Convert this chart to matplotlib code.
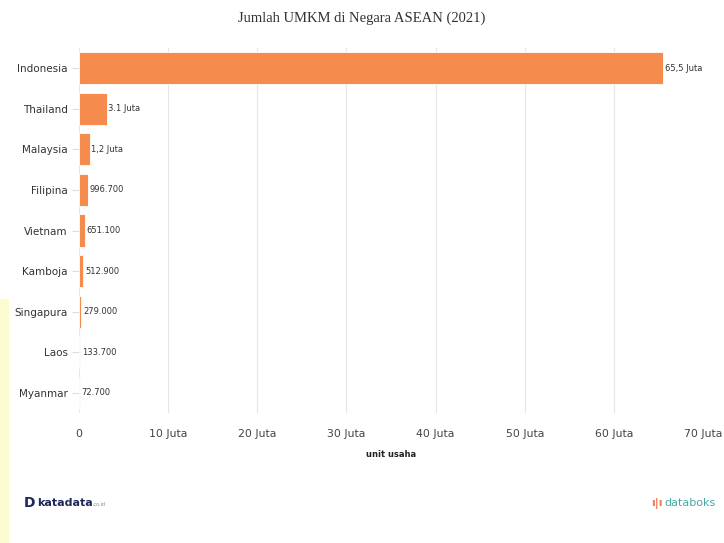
import matplotlib.pyplot as plt
from matplotlib.patches import Rectangle

# Data UMKM ASEAN 2021
negara = ['Indonesia', 'Thailand', 'Malaysia', 'Filipina', 'Vietnam',
          'Kamboja', 'Singapura', 'Laos', 'Myanmar']
jumlah = [65500000, 3100000, 1200000, 996700, 651100, 512900, 279000, 133700, 72700]
label_nilai = ['65,5 Juta', '3.1 Juta', '1,2 Juta', '996.700', '651.100',
               '512.900', '279.000', '133.700', '72.700']
tick_x = [0, 10, 20, 30, 40, 50, 60, 70]
tick_label_x = ['0', '10 Juta', '20 Juta', '30 Juta', '40 Juta',
                '50 Juta', '60 Juta', '70 Juta']

oranye = '#f58b4c'
oranye_muda = '#f9c9a8'
warna = [oranye] * 7 + [oranye_muda] * 2

fig = plt.figure(figsize=(7.24, 5.43), dpi=100)

# pita kuning tipis di kiri (watermark)
fig.patches.append(Rectangle((0, 0), 0.012, 0.45, transform=fig.transFigure,
                             facecolor='#fdfbd0', edgecolor='none', zorder=0))

ax = fig.add_axes([0.109, 0.239, 0.862, 0.673])

y = list(range(len(negara)))
ax.barh(y, [v / 1e6 for v in jumlah], height=0.79, color=warna,
        edgecolor='white', linewidth=0.6, zorder=2)

for i, (v, lab) in enumerate(zip(jumlah, label_nilai)):
    ax.text(v / 1e6 + 0.2, i, lab, va='center', ha='left',
            fontsize=6, color='#333333', zorder=3)

ax.set_ylim(len(negara) - 0.5, -0.5)
ax.set_xlim(0, 70)
ax.set_yticks(y)
ax.set_yticklabels(negara, fontsize=7.5, color='#333333')
ax.set_xticks(tick_x)
ax.set_xticklabels(tick_label_x, fontsize=7.8, color='#444444')

ax.grid(axis='x', color='#e6e6e6', linewidth=0.8, zorder=0)
for s in ax.spines.values():
    s.set_visible(False)
ax.tick_params(axis='y', length=5, color='#dddddd', pad=3)
ax.tick_params(axis='x', length=0, pad=11)

ax.set_xlabel('unit usaha', fontsize=6, fontweight='bold', color='#222222',
              labelpad=8)

fig.text(0.5, 0.967, 'Jumlah UMKM di Negara ASEAN (2021)', ha='center',
         va='center', fontsize=10.5, family='Liberation Serif', color='#333333')

# logo teks
fig.text(0.033, 0.073, 'D', fontsize=10, fontweight='bold', color='#1f2a5a',
         va='center', ha='left')
fig.text(0.051, 0.073, 'katadata', fontsize=8, fontweight='bold', color='#1f2a5a',
         va='center', ha='left')
fig.text(0.128, 0.071, '.co.id', fontsize=3.5, color='#888888', va='center')
fig.text(0.9, 0.073, 'ı|ı', fontsize=8, color='#f07b5a', va='center', ha='left',
         fontweight='bold')
fig.text(0.918, 0.073, 'databoks', fontsize=8, color='#46a9a4', va='center',
         ha='left')

fig.savefig('out.png', dpi=100)
